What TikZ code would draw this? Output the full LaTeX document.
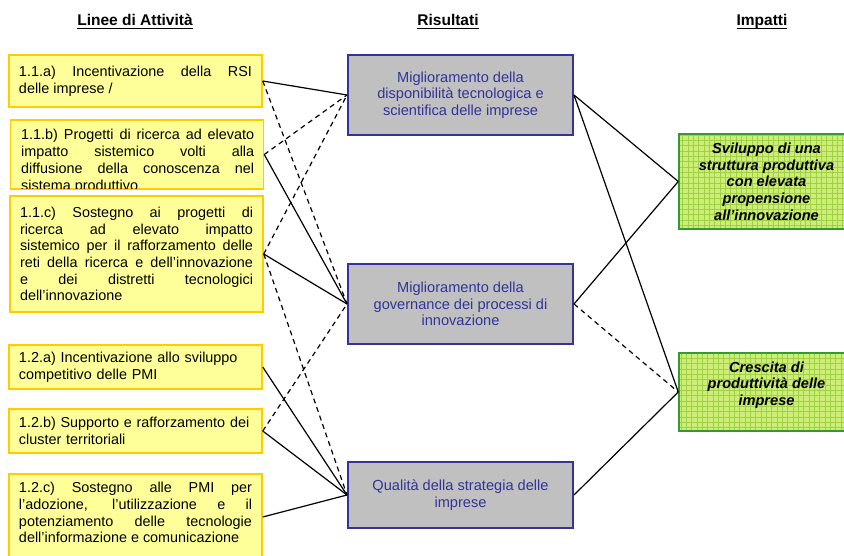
\documentclass[tikz,border=0pt]{standalone}
\usepackage{fontspec}
\setmainfont{Liberation Sans}
\usetikzlibrary{calc}
\definecolor{lfill}{HTML}{FFFF99}
\definecolor{ldraw}{HTML}{FFCC00}
\definecolor{mfill}{HTML}{C0C0C0}
\definecolor{mdraw}{HTML}{333399}
\definecolor{gfill}{HTML}{CCEE77}
\definecolor{ggrid}{HTML}{9FD045}
\definecolor{gdraw}{HTML}{339933}
\newcommand\hdrline[1]{\setbox0\hbox{#1}\rlap{\rule[-2.8pt]{\wd0}{1.1pt}}\box0}
\tolerance=10000
\begin{document}
\begin{tikzpicture}[x=1pt,y=-1pt,
  lbox/.style={draw=ldraw, fill=lfill, line width=1.5pt, text width=233pt,
    inner xsep=10pt, inner ysep=2pt, font=\fontsize{14.4}{16.7}\selectfont, align=justify},
  ltext/.style={text width=233pt, inner sep=0pt, font=\fontsize{14.4}{16.7}\selectfont, align=justify},
  rbox/.style={draw=mdraw, fill=mfill, line width=2pt, minimum width=225pt,
    text=mdraw, align=center, font=\fontsize{14.6}{16.3}\selectfont},
  ibox/.style={draw=gdraw, fill=gfill, line width=1.5pt, minimum width=175pt,
    align=center, font=\fontsize{14.6}{16.7}\selectfont\bfseries\itshape,
    path picture={\draw[ggrid, line width=0.6pt, step=5.33pt]
      (path picture bounding box.south west) grid (path picture bounding box.north east);}},
  hdr/.style={font=\fontsize{15.5}{18}\selectfont\bfseries, inner sep=0pt},
  conn/.style={line width=1.2pt},
  dconn/.style={line width=1.2pt, dash pattern=on 5pt off 4pt}]
\useasboundingbox[fill=white] (0,0) rectangle (844,556);

% headers
\node[hdr, anchor=base] (h1) at (135,26) {\hdrline{Linee di Attività}};
\node[hdr, anchor=base] (h2) at (448,26) {\hdrline{Risultati}};
\node[hdr, anchor=base] (h3) at (762,26) {\hdrline{Impatti}};

% left boxes
\node[lbox, minimum height=52pt] (b1) at (135.5,81)
  {1.1.a) Incentivazione della RSI\linebreak delle imprese /};
\node[lbox, minimum height=69pt] (b2) at (137,154.5) {};
\begin{scope}
  \clip ($(b2.north west)+(1.5,1.5)$) rectangle ($(b2.south east)+(-1.5,-1.5)$);
  \node[ltext, anchor=base west] (b2t) at (21,140)
    {1.1.b) Progetti di ricerca ad elevato\linebreak impatto sistemico volti alla\linebreak diffusione della conoscenza nel\linebreak sistema produttivo};
\end{scope}
\node[lbox, minimum height=116pt] (b3) at (136.5,254)
  {1.1.c) Sostegno ai progetti di\linebreak ricerca ad elevato impatto\linebreak sistemico per il rafforzamento delle\linebreak reti della ricerca e dell’innovazione\linebreak e dei distretti tecnologici\linebreak dell’innovazione};
\node[lbox, align=left, minimum height=44pt] (b4) at (135.5,367)
  {1.2.a) Incentivazione allo sviluppo\\competitivo delle PMI};
\node[lbox, align=left, minimum height=44pt] (b5) at (135.5,431)
  {1.2.b) Supporto e rafforzamento dei\\cluster territoriali};
\node[lbox, minimum height=94pt] (b6) at (135.5,521)
  {1.2.c) Sostegno alle PMI per\linebreak l’adozione, l’utilizzazione e il\linebreak potenziamento delle tecnologie\linebreak dell’informazione e comunicazione\par\mbox{}};
\coordinate (b6c) at ([yshift=4pt]b6.east);

% middle boxes
\node[rbox, minimum height=80pt] (r1) at (460.5,95)
  {Miglioramento della\\disponibilità tecnologica e\\scientifica delle imprese};
\node[rbox, minimum height=80pt] (r2) at (460.5,304)
  {Miglioramento della\\governance dei processi di\\innovazione};
\node[rbox, minimum height=66pt] (r3) at (460.5,495)
  {Qualità della strategia delle\\imprese};

% right boxes
\node[ibox, minimum height=95pt] (i1) at (766.5,181.5)
  {Sviluppo di una\\struttura produttiva\\con elevata\\propensione\\all’innovazione};
\node[ibox, minimum height=78pt] (i2) at (766.5,392)
  {Crescita di\\produttività delle\\imprese\\\mbox{}};

% connectors
\draw[conn]  (b1.east) -- (r1.west);
\draw[dconn] (b1.east) -- (r2.west);
\draw[dconn] (b2.east) -- (r1.west);
\draw[conn]  (b2.east) -- (r2.west);
\draw[dconn] (b3.east) -- (r1.west);
\draw[conn]  (b3.east) -- (r2.west);
\draw[dconn] (b3.east) -- (r3.west);
\draw[conn]  (b4.east) -- (r3.west);
\draw[dconn] (b5.east) -- (r2.west);
\draw[conn]  (b5.east) -- (r3.west);
\draw[conn]  (b6c) -- (r3.west);
\draw[conn]  (r1.east) -- (i1.west);
\draw[conn]  (r1.east) -- (i2.west);
\draw[conn]  (r2.east) -- (i1.west);
\draw[dconn] (r2.east) -- (i2.west);
\draw[conn]  (r3.east) -- (i2.west);
\end{tikzpicture}
\end{document}
